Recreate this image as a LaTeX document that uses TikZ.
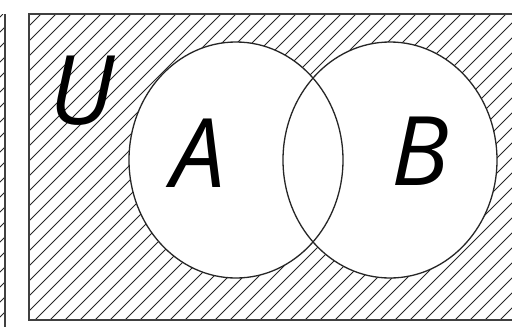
\documentclass[tikz,border=0pt]{standalone}
\usepackage{fontspec}
\setsansfont{Open Sans}
\tikzset{
    frame/.style={draw, line width=1.4pt, black!75},
    hatch/.style={line width=1pt, black!85},
    setarea/.style={fill=white},
    setline/.style={draw, line width=1.3pt, black!85},
    setlabel/.style={font=\sffamily\itshape\fontsize{96pt}{96pt}\selectfont, inner sep=0pt},
}
\begin{document}
\begin{tikzpicture}[x=1pt, y=-1pt]
    \useasboundingbox (0,0) rectangle (512,327);

    % neighbouring panel, cut off at the left
    \begin{scope}
        \clip (-20,14) rectangle (5,327);
        \foreach \i in {-340,-325,...,20}
            \draw[hatch] (\i,327) -- ++(313,-313);
    \end{scope}
    \draw[frame] (5,14) -- (5,327);

    % universe
    \coordinate (ul) at (29,14);
    \coordinate (lr) at (530,320);
    \begin{scope}
        \clip (ul) rectangle (lr);
        \foreach \i in {-340,-325,...,540}
            \draw[hatch] (\i,320) -- ++(306,-306);
    \end{scope}
    \draw[frame] (ul) rectangle (lr);

    % the two sets
    \coordinate (ca) at (236,160);
    \coordinate (cb) at (390,160);
    \fill[setarea] (ca) ellipse [x radius=107, y radius=118];
    \fill[setarea] (cb) ellipse [x radius=107, y radius=118];
    \draw[setline] (ca) ellipse [x radius=107, y radius=118];
    \draw[setline] (cb) ellipse [x radius=107, y radius=118];

    \node[setlabel] (u) at (82,91) {U};
    \node[setlabel] (a) at (198,153) {A};
    \node[setlabel] (b) at (420,151) {B};
\end{tikzpicture}
\end{document}
